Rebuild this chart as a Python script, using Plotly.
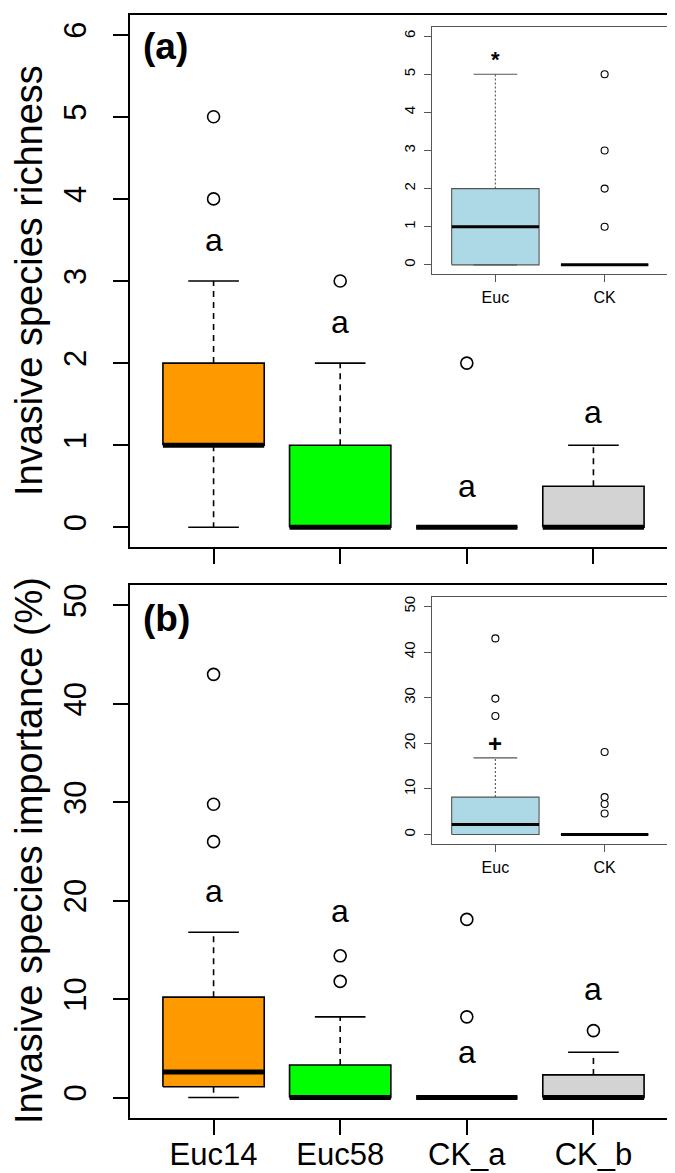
import plotly.graph_objects as go

# ---------------- data ----------------
groups = ["Euc14", "Euc58", "CK_a", "CK_b"]
group_fill = ["#FF9900", "#00FF00", "#D3D3D3", "#D3D3D3"]

# panel (a): invasive species richness
rich_q1 = [1, 0, 0, 0]
rich_med = [1, 0, 0, 0]
rich_q3 = [2, 1, 0, 0.5]
rich_lo = [0, 0, 0, 0]
rich_hi = [3, 2, 0, 1]
rich_out = [[4, 5], [3], [2], []]
rich_letters = ["a", "a", "a", "a"]
rich_letter_y = [3.5, 2.5, 0.5, 1.4]

# panel (b): invasive species importance (%)
imp_q1 = [1.1, 0, 0, 0]
imp_med = [2.6, 0, 0, 0]
imp_q3 = [10.2, 3.3, 0, 2.3]
imp_lo = [0, 0, 0, 0]
imp_hi = [16.8, 8.2, 0, 4.6]
imp_out = [[26.0, 29.8, 43.0], [11.8, 14.4], [8.2, 18.1], [6.8]]
imp_letters = ["a", "a", "a", "a"]
imp_letter_y = [21.0, 19.0, 4.6, 11.0]

# insets
inset_groups = ["Euc", "CK"]
inset_fill = ["#ADD8E6", "#ADD8E6"]
in_rich_q1 = [0, 0]
in_rich_med = [1, 0]
in_rich_q3 = [2, 0]
in_rich_lo = [0, 0]
in_rich_hi = [5, 0]
in_rich_out = [[], [1, 2, 3, 5]]
in_rich_mark = "*"
in_rich_mark_y = 5.38

in_imp_q1 = [0, 0]
in_imp_med = [2.2, 0]
in_imp_q3 = [8.2, 0]
in_imp_lo = [0, 0]
in_imp_hi = [16.8, 0]
in_imp_out = [[26.0, 29.8, 43.0], [4.6, 6.7, 8.2, 18.1]]
in_imp_mark = "+"
in_imp_mark_y = 19.9

rich_ticks = [0, 1, 2, 3, 4, 5, 6]
imp_ticks = [0, 10, 20, 30, 40, 50]

# ---------------- figure ----------------
W, H = 675, 1173
FONT = "Liberation Sans, Arial, Helvetica, sans-serif"


def fx(p):
    return p / W


def fy(p):
    return 1 - p / H


fig = go.Figure()


def draw_boxes(xa, ya, q1, med, q3, lo, hi, outs, fills, edge, bw, cw,
               edge_w, med_w, dash, msize, mline, whisk_col):
    for i in range(len(q1)):
        x = i + 1
        common = dict(xaxis=xa, yaxis=ya, hoverinfo="skip", showlegend=False)
        fig.add_trace(go.Scatter(
            x=[x - bw / 2, x + bw / 2, x + bw / 2, x - bw / 2, x - bw / 2],
            y=[q1[i], q1[i], q3[i], q3[i], q1[i]],
            fill="toself", fillcolor=fills[i], mode="lines",
            line=dict(color=edge, width=edge_w), **common))
        fig.add_trace(go.Scatter(
            x=[x, x, None, x, x], y=[q3[i], hi[i], None, q1[i], lo[i]],
            mode="lines", line=dict(color=whisk_col, width=edge_w, dash=dash),
            **common))
        fig.add_trace(go.Scatter(
            x=[x - cw / 2, x + cw / 2, None, x - cw / 2, x + cw / 2],
            y=[hi[i], hi[i], None, lo[i], lo[i]],
            mode="lines", line=dict(color=whisk_col, width=edge_w), **common))
        fig.add_trace(go.Scatter(
            x=[x - bw / 2, x + bw / 2], y=[med[i], med[i]],
            mode="lines", line=dict(color="black", width=med_w), **common))
        if outs[i]:
            fig.add_trace(go.Scatter(
                x=[x] * len(outs[i]), y=outs[i], mode="markers",
                marker=dict(symbol="circle-open", size=msize, color="black",
                            line=dict(width=mline, color="black")),
                **common))


# main panels
draw_boxes("x", "y", rich_q1, rich_med, rich_q3, rich_lo, rich_hi, rich_out,
           group_fill, "black", 0.8, 0.4, 1.6, 5, "6px,5px", 12, 1.6, "black")
draw_boxes("x2", "y2", imp_q1, imp_med, imp_q3, imp_lo, imp_hi, imp_out,
           group_fill, "black", 0.8, 0.4, 1.6, 5, "6px,5px", 12, 1.6, "black")
# insets
draw_boxes("x3", "y3", in_rich_q1, in_rich_med, in_rich_q3, in_rich_lo,
           in_rich_hi, in_rich_out, inset_fill, "#555555", 0.8, 0.4, 1.1, 3,
           "2px,2px", 7, 1.1, "#555555")
draw_boxes("x4", "y4", in_imp_q1, in_imp_med, in_imp_q3, in_imp_lo,
           in_imp_hi, in_imp_out, inset_fill, "#555555", 0.8, 0.4, 1.1, 3,
           "2px,2px", 7, 1.1, "#555555")

main_x = dict(range=[0.34, 4.66], tickvals=[1, 2, 3, 4], ticktext=groups,
              ticks="outside", ticklen=15, tickwidth=1.6, tickcolor="black",
              showline=True, linewidth=1.6, linecolor="black", mirror=True,
              showgrid=False, zeroline=False, fixedrange=True,
              tickfont=dict(family=FONT, size=31, color="black"),
              ticklabelstandoff=-7)
main_y = dict(ticks="outside", ticklen=15, tickwidth=1.6, tickcolor="black",
              showline=True, linewidth=1.6, linecolor="black", mirror=True,
              showgrid=False, zeroline=False, tickangle=-90, fixedrange=True,
              tickfont=dict(family=FONT, size=31, color="black"),
              ticklabelstandoff=15)
in_x = dict(range=[0.42, 2.58], tickvals=[1, 2], ticktext=inset_groups,
            ticks="outside", ticklen=7, tickwidth=1.1, tickcolor="#555555",
            showline=True, linewidth=1.1, linecolor="#555555", mirror=True,
            showgrid=False, zeroline=False, fixedrange=True,
            tickfont=dict(family=FONT, size=16, color="black"),
            ticklabelstandoff=2)
in_y = dict(ticks="outside", ticklen=7, tickwidth=1.1, tickcolor="#555555",
            showline=True, linewidth=1.1, linecolor="#555555", mirror=True,
            showgrid=False, zeroline=False, tickangle=-90, fixedrange=True,
            tickfont=dict(family=FONT, size=15, color="black"),
            ticklabelstandoff=3)

fig.update_layout(
    width=W, height=H, margin=dict(l=0, r=0, t=0, b=0),
    paper_bgcolor="white", plot_bgcolor="white", showlegend=False,
    xaxis=dict(main_x, domain=[fx(122), fx(669)], anchor="y",
               showticklabels=False),
    yaxis=dict(main_y, domain=[fy(539), fy(7)], anchor="x",
               range=[-0.24, 6.24], tickvals=rich_ticks),
    xaxis2=dict(main_x, domain=[fx(122), fx(669)], anchor="y2"),
    yaxis2=dict(main_y, domain=[fy(1110), fy(577)], anchor="x2",
                range=[-2.08, 52.08], tickvals=imp_ticks),
    xaxis3=dict(in_x, domain=[fx(424), fx(660)], anchor="y3"),
    yaxis3=dict(in_y, domain=[fy(266), fy(19)], anchor="x3",
                range=[-0.24, 6.24], tickvals=rich_ticks),
    xaxis4=dict(in_x, domain=[fx(424), fx(660)], anchor="y4"),
    yaxis4=dict(in_y, domain=[fy(836), fy(589)], anchor="x4",
                range=[-2.08, 52.08], tickvals=imp_ticks),
)

ann = []
# y axis titles
ann.append(dict(text="Invasive species richness", xref="paper", yref="paper",
                x=fx(21), y=fy(273), textangle=-90, showarrow=False,
                xanchor="center", yanchor="middle",
                font=dict(family=FONT, size=38, color="black")))
ann.append(dict(text="Invasive species importance (%)", xref="paper",
                yref="paper", x=fx(21), y=fy(843), textangle=-90,
                showarrow=False, xanchor="center", yanchor="middle",
                font=dict(family=FONT, size=38, color="black")))
# panel labels
ann.append(dict(text="<b>(a)</b>", xref="paper", yref="paper", x=fx(133),
                y=fy(38), xanchor="left", yanchor="middle", showarrow=False,
                font=dict(family=FONT, size=37, color="black")))
ann.append(dict(text="<b>(b)</b>", xref="paper", yref="paper", x=fx(133),
                y=fy(610), xanchor="left", yanchor="middle", showarrow=False,
                font=dict(family=FONT, size=37, color="black")))
# significance letters
for i, (t, yv) in enumerate(zip(rich_letters, rich_letter_y)):
    ann.append(dict(text=t, xref="x", yref="y", x=i + 1, y=yv,
                    showarrow=False, xanchor="center", yanchor="middle",
                    font=dict(family=FONT, size=32, color="black")))
for i, (t, yv) in enumerate(zip(imp_letters, imp_letter_y)):
    ann.append(dict(text=t, xref="x2", yref="y2", x=i + 1, y=yv,
                    showarrow=False, xanchor="center", yanchor="middle",
                    font=dict(family=FONT, size=32, color="black")))
# inset marks
ann.append(dict(text="<b>" + in_rich_mark + "</b>", xref="x3", yref="y3",
                x=1, y=in_rich_mark_y, showarrow=False, xanchor="center",
                yanchor="middle", font=dict(family=FONT, size=22, color="black")))
ann.append(dict(text="<b>" + in_imp_mark + "</b>", xref="x4", yref="y4",
                x=1, y=in_imp_mark_y, showarrow=False, xanchor="center",
                yanchor="middle", font=dict(family=FONT, size=24, color="black")))
fig.update_layout(annotations=ann)

fig.write_html("out.html")
